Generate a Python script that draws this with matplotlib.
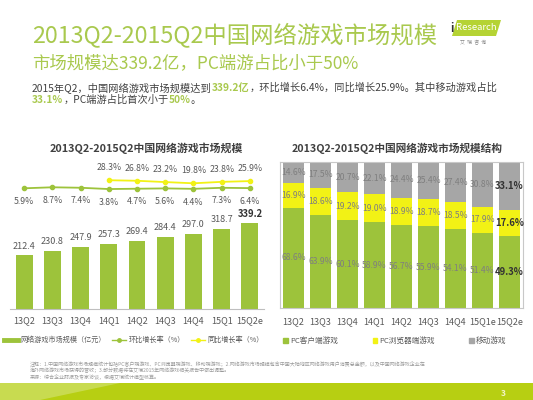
import matplotlib
matplotlib.use('Agg')
import matplotlib.pyplot as plt
from matplotlib.lines import Line2D
from matplotlib.patches import Patch, Polygon, Rectangle

plt.rcParams['font.family'] = ['Noto Sans CJK SC', 'DejaVu Sans']

# DATA -----------------------------------------------------------------------------------------------------------------
quarters_left = ['13Q2', '13Q3', '13Q4', '14Q1', '14Q2', '14Q3', '14Q4', '15Q1', '15Q2e']
market_size = [212.4, 230.8, 247.9, 257.3, 269.4, 284.4, 297.0, 318.7, 339.2]
qoq_growth = [5.9, 8.7, 7.4, 3.8, 4.7, 5.6, 4.4, 7.3, 6.4]
yoy_quarters = ['14Q1', '14Q2', '14Q3', '14Q4', '15Q1', '15Q2e']
yoy_growth = [28.3, 26.8, 23.2, 19.8, 23.8, 25.9]

quarters_right = ['13Q2', '13Q3', '13Q4', '14Q1', '14Q2', '14Q3', '14Q4', '15Q1e', '15Q2e']
pc_client = [68.6, 63.9, 60.1, 58.9, 56.7, 55.9, 54.1, 51.4, 49.3]
pc_browser = [16.9, 18.6, 19.2, 19.0, 18.9, 18.7, 18.5, 17.9, 17.6]
mobile = [14.6, 17.5, 20.7, 22.1, 24.4, 25.4, 27.4, 30.8, 33.1]

# STYLE ----------------------------------------------------------------------------------------------------------------
W, H = 533, 400
GREEN = '#9dc33b'
TITLE_GREEN = '#a9c94e'
YELLOW = '#f2f215'
GREY = '#a6a6a6'
TXT = '#595959'


def rect(x0, y0, x1, y1):
    # pixel box (top-left origin) -> figure fraction
    return [x0 / W, 1 - y1 / H, (x1 - x0) / W, (y1 - y0) / H]


fig = plt.figure(figsize=(W / 100, H / 100), dpi=100)
fig.patch.set_facecolor('white')
renderer = fig.canvas.get_renderer()


def rich_line(x, y, parts, size):
    # draws pieces of text one after another on the same line
    xf = x / W
    for text, color, weight in parts:
        t = fig.text(xf, 1 - y / H, text, fontsize=size, color=color, fontweight=weight, va='center', ha='left')
        xf += t.get_window_extent(renderer).width / W


# HEADER ---------------------------------------------------------------------------------------------------------------
fig.text(32 / W, 1 - 35 / H, '2013Q2-2015Q2中国网络游戏市场规模', fontsize=16.8, color=TITLE_GREEN, va='center')
fig.text(32 / W, 1 - 63 / H, '市场规模达339.2亿，PC端游占比小于50%', fontsize=12.5, color=TITLE_GREEN, va='center')
rich_line(32, 88, [('2015年Q2，中国网络游戏市场规模达到', '#404040', 'normal'),
                   ('339.2亿', TITLE_GREEN, 'bold'),
                   ('，环比增长6.4%，同比增长25.9%。其中移动游戏占比', '#404040', 'normal')], 7.35)
rich_line(32, 100, [('33.1%', TITLE_GREEN, 'bold'),
                    ('，PC端游占比首次小于', '#404040', 'normal'),
                    ('50%', TITLE_GREEN, 'bold'),
                    ('。', '#404040', 'normal')], 7.35)

# logo
fig.patches.append(Polygon([(452 / W, 1 - 36 / H), (457 / W, 1 - 20 / H), (501 / W, 1 - 20 / H), (496 / W, 1 - 36 / H)],
                           closed=True, transform=fig.transFigure, facecolor='#b5d334', edgecolor='none'))
fig.text(452 / W, 1 - 28 / H, 'i', fontsize=8, color='#333333', va='center', ha='center', fontweight='bold',
         style='italic')
fig.text(476 / W, 1 - 28 / H, 'Research', fontsize=6.8, color='white', va='center', ha='center')
fig.text(473 / W, 1 - 43 / H, '艾  瑞  咨  询', fontsize=3.5, color='#888888', va='center', ha='center')

# LEFT CHART -----------------------------------------------------------------------------------------------------------
x_left = list(range(len(quarters_left)))
ax1 = fig.add_axes(rect(10, 160, 264, 309))
bars = ax1.bar(x_left, market_size, width=0.6, color=GREEN)
ax1.set_xlim(-0.5, 8.5)
ax1.set_ylim(0, 591)
for s in ['top', 'right', 'left']:
    ax1.spines[s].set_visible(False)
ax1.spines['bottom'].set_color('#bfbfbf')
ax1.set_yticks([])
ax1.set_xticks(x_left)
ax1.set_xticklabels(quarters_left, fontsize=6.5, color=TXT)
ax1.tick_params(axis='x', length=0, pad=5)
ax1.patch.set_alpha(0)
for i, v in enumerate(market_size):
    last = i == len(market_size) - 1
    ax1.annotate(f'{v:.1f}', (i, v), xytext=(0, 6.8), textcoords='offset points', ha='center', va='center',
                 fontsize=6.8 if last else 6.5, color='#333333' if last else TXT,
                 fontweight='bold' if last else 'normal')

# growth lines
ax2 = fig.add_axes(rect(10, 170, 264, 200))
ax2.set_xlim(-0.5, 8.5)
ax2.set_ylim(-26.6, 56.7)
ax2.axis('off')
x_yoy = [quarters_left.index(q) for q in yoy_quarters]
ax2.plot(x_left, qoq_growth, color=GREEN, lw=1.3, marker='o', ms=3)
ax2.plot(x_yoy, yoy_growth, color=YELLOW, lw=1.3, marker='o', ms=3)
for i, v in zip(x_left, qoq_growth):
    ax2.annotate(f'{v}%', (i, v), xytext=(0, -9.5), textcoords='offset points', ha='center', va='center',
                 fontsize=6.3, color=TXT)
for i, v in zip(x_yoy, yoy_growth):
    ax2.annotate(f'{v}%', (i, v), xytext=(0, 9), textcoords='offset points', ha='center', va='center',
                 fontsize=6.3, color=TXT)

fig.text(146 / W, 1 - 148 / H, '2013Q2-2015Q2中国网络游戏市场规模', fontsize=7.8, color='#404040',
         fontweight='bold', ha='center', va='center')

left_handles = [Line2D([], [], color=GREEN, lw=3.5),
                Line2D([], [], color=GREEN, lw=1, marker='o', ms=2.5),
                Line2D([], [], color=YELLOW, lw=1, marker='o', ms=2.5)]
fig.legend(left_handles, ['网络游戏市场规模（亿元）', '环比增长率（%）', '同比增长率（%）'],
           loc='center', bbox_to_anchor=(134 / W, 1 - 340 / H), ncol=3, frameon=False,
           fontsize=5.1, handlelength=2.0, handletextpad=0.3, columnspacing=0.9, labelcolor=TXT)

# RIGHT CHART ----------------------------------------------------------------------------------------------------------
x_right = list(range(len(quarters_right)))
ax3 = fig.add_axes(rect(280, 162, 523, 308))
bottom_browser = [a for a in pc_client]
bottom_mobile = [a + b for a, b in zip(pc_client, pc_browser)]
ax3.bar(x_right, pc_client, width=0.8, color=GREEN)
ax3.bar(x_right, pc_browser, width=0.8, bottom=bottom_browser, color=YELLOW)
ax3.bar(x_right, mobile, width=0.8, bottom=bottom_mobile, color=GREY)
ax3.set_xlim(-0.5, 8.5)
ax3.set_ylim(0, 100.1)
for s in ax3.spines.values():
    s.set_color('#c8c8c8')
    s.set_linewidth(0.8)
ax3.set_yticks([])
ax3.set_xticks(x_right)
ax3.set_xticklabels(quarters_right, fontsize=6.5, color=TXT)
ax3.tick_params(axis='x', length=0, pad=6.5)

for i in x_right:
    last = i == len(x_right) - 1
    segs = [(pc_client[i], 0), (pc_browser[i], bottom_browser[i]), (mobile[i], bottom_mobile[i])]
    for v, b in segs:
        ax3.text(i, b + v / 2, f'{v}%', ha='center', va='center',
                 fontsize=6.8 if last else 6.2, color='#333333' if last else '#7f7f7f',
                 fontweight='bold' if last else 'normal')

fig.text(397 / W, 1 - 148 / H, '2013Q2-2015Q2中国网络游戏市场规模结构', fontsize=7.7, color='#404040',
         fontweight='bold', ha='center', va='center')

right_handles = [Patch(color=GREEN), Patch(color=YELLOW), Patch(color=GREY)]
fig.legend(right_handles, ['PC客户端游戏', 'PC浏览器端游戏', '移动游戏'],
           loc='center', bbox_to_anchor=(395 / W, 1 - 341 / H), ncol=3, frameon=False,
           fontsize=5.5, handlelength=0.6, handleheight=0.6, handletextpad=0.3, columnspacing=4.5,
           labelcolor=TXT)

# FOOTNOTE -------------------------------------------------------------------------------------------------------------
notes = ['注释：1.中国网络游戏市场规模统计包括PC客户端游戏、PC浏览器端游戏、移动端游戏；2.网络游戏市场规模包含中国大陆地区网络游戏用户消费总金额，以及中国网络游戏企业在',
         '海外网络游戏市场获得的营收；3.部分数据将在艾瑞2015年网络游戏相关报告中做出调整。',
         '来源：综合企业财报及专家访谈，根据艾瑞统计模型核算。']
for k, line in enumerate(notes):
    fig.text(30 / W, 1 - (364 + 6.5 * k) / H, line, fontsize=3.6, color='#9a9a9a', va='center')

# bottom band
fig.patches.append(Rectangle((0, 0), 1, 17 / H, transform=fig.transFigure, facecolor='#b7cf12', edgecolor='none'))
fig.patches.append(Polygon([(0, 17 / H), (120 / W, 17 / H), (40 / W, 0), (0, 0)], closed=True,
                           transform=fig.transFigure, facecolor='#d5e47a', edgecolor='none', alpha=0.6))
fig.text(503 / W, 1 - 394 / H, '3', fontsize=6, color='#f4f4c8', fontweight='bold', ha='center', va='center')

fig.savefig('out.png', dpi=100)
